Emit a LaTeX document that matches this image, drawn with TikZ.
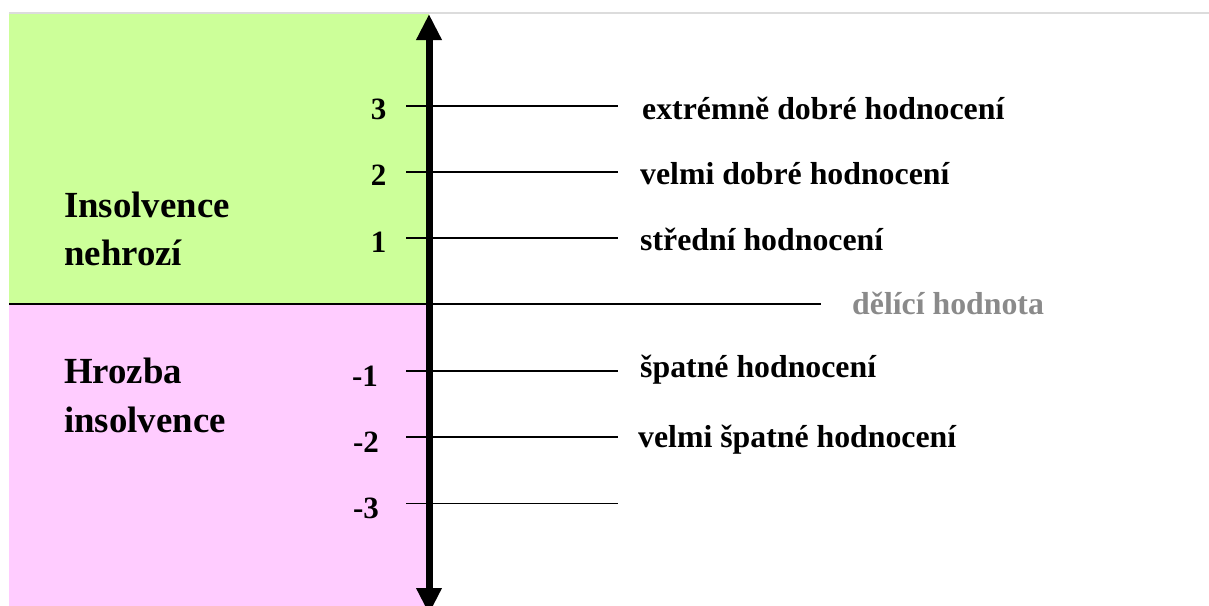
\documentclass[tikz,border=0pt]{standalone}
\usepackage{fontspec}
\setmainfont{Liberation Serif}
\usetikzlibrary{arrows.meta}
\definecolor{safegreen}{HTML}{CCFF99}
\definecolor{riskpink}{HTML}{FFCCFF}
\definecolor{cutgray}{HTML}{8A8A8A}
\definecolor{rulegray}{HTML}{DCDCDC}
\tikzset{
  ticktext/.style={font=\fontsize{31.8}{36}\selectfont\bfseries, inner sep=0pt, anchor=base west},
  numtext/.style={font=\fontsize{31}{36}\selectfont\bfseries, inner sep=0pt, anchor=base},
  zonetext/.style={font=\fontsize{36.8}{42}\selectfont\bfseries, inner sep=0pt, anchor=base west},
  tickline/.style={line width=1.8pt, black},
}
\begin{document}
\begin{tikzpicture}[x=1pt,y=-1pt]
\useasboundingbox (0,0) rectangle (1209,605);
% background zones
\fill[safegreen] (9,14) rectangle (429,304);
\fill[riskpink] (9,304) rectangle (429,615);
% thin rule along the top
\draw[rulegray, line width=2pt] (9,13) -- (1209,13);
% dividing value line
\coordinate (divL) at (9,304);
\coordinate (divR) at (821,304);
\draw[tickline] (divL) -- (divR);
\node[ticktext, text=cutgray] (divlabel) at (852,314) {dělící hodnota};
% scale ticks
\foreach \n/\y in {p3/105.7, p2/172, p1/238.3, m1/370.9, m2/437.2, m3/503.5}{
  \coordinate (\n L) at (406,\y);
  \coordinate (\n R) at (618,\y);
  \draw[tickline] (\n L) -- (\n R);
}
% scale numbers
\node[numtext] (n3) at (378.5,119) {3};
\node[numtext] (n2) at (378.5,185.5) {2};
\node[numtext] (n1) at (378.5,252) {1};
\node[numtext] (nm1) at (365,386) {-1};
\node[numtext] (nm2) at (366,452) {-2};
\node[numtext] (nm3) at (366,518) {-3};
% tick descriptions
\node[ticktext] (l3) at (642,119) {extrémně dobré hodnocení};
\node[ticktext] (l2) at (640,184) {velmi dobré hodnocení};
\node[ticktext] (l1) at (640,250) {střední hodnocení};
\node[ticktext] (lm1) at (640,377) {špatné hodnocení};
\node[ticktext] (lm2) at (638,447) {velmi špatné hodnocení};
% zone captions
\node[zonetext] (z1a) at (64,217) {Insolvence};
\node[zonetext] (z1b) at (64,265) {nehrozí};
\node[zonetext] (z2a) at (64,383) {Hrozba};
\node[zonetext] (z2b) at (64,432) {insolvence};
% main axis
\coordinate (axTop) at (429,14);
\coordinate (axBot) at (429,614);
\draw[line width=7pt, {Triangle[width=24pt,length=26pt]}-{Triangle[width=24pt,length=26pt]}] (axBot) -- (axTop);
\end{tikzpicture}
\end{document}
